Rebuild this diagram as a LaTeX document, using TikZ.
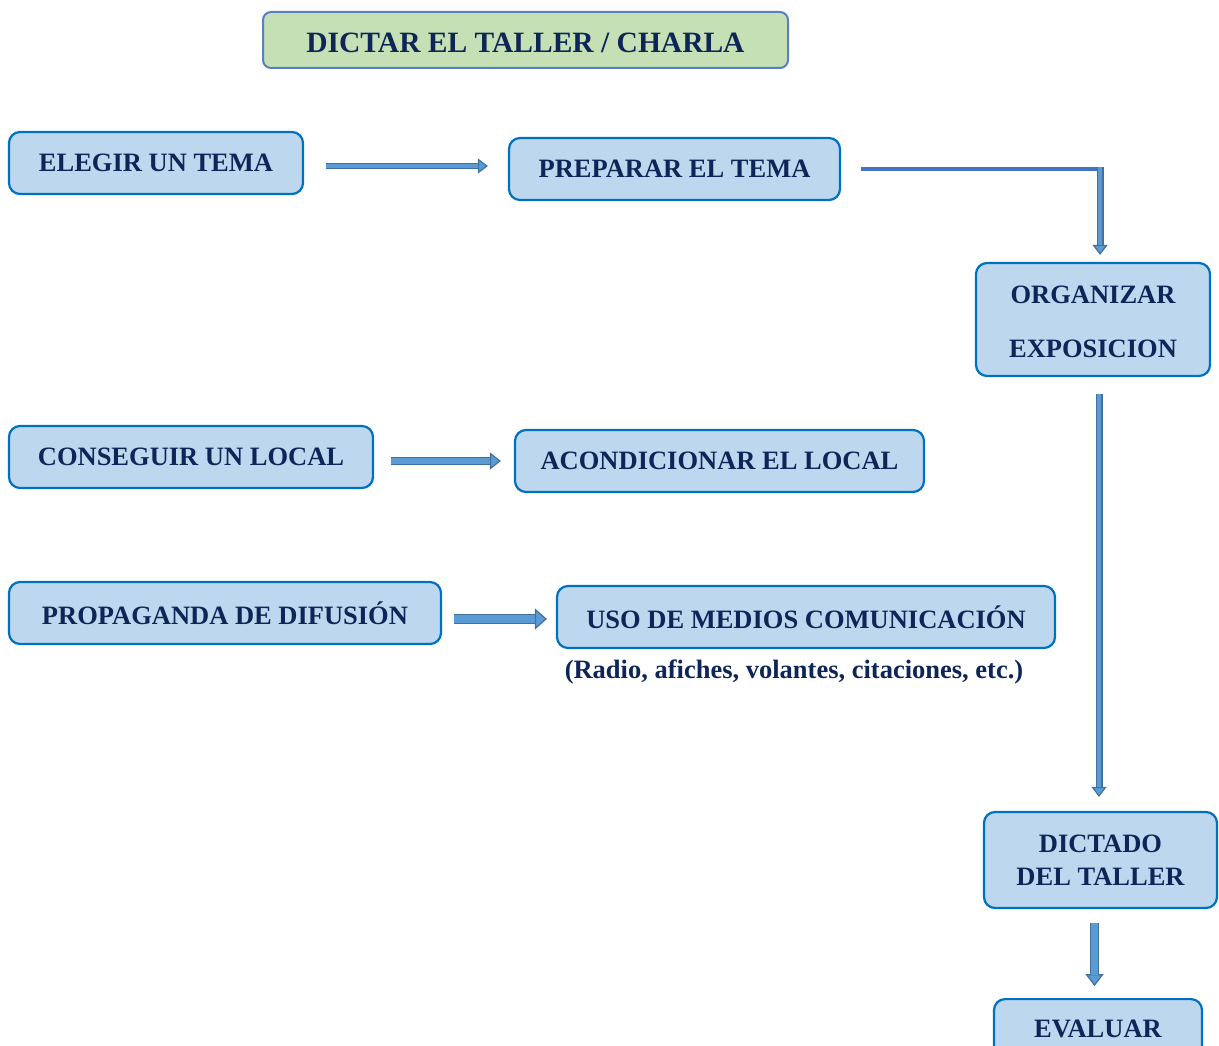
\documentclass[tikz,border=0pt]{standalone}
\usepackage{fontspec}
\setmainfont{Liberation Serif}
\usetikzlibrary{arrows.meta,calc}
\definecolor{boxfill}{HTML}{BDD7EE}
\definecolor{boxdraw}{HTML}{0070C0}
\definecolor{titlefill}{HTML}{C5E0B4}
\definecolor{titledraw}{HTML}{5B80C2}
\definecolor{txt}{HTML}{0E2557}
\definecolor{adark}{HTML}{41719C}
\definecolor{alight}{HTML}{5B9BD5}
\definecolor{aline}{HTML}{4472C4}
\tikzset{
  stepbox/.style={draw=boxdraw, line width=2.2pt, fill=boxfill, rounded corners=11pt,
    text=txt, font=\bfseries\fontsize{26.5}{33}\selectfont, inner sep=0pt, align=center},
  titlebox/.style={draw=titledraw, line width=2pt, fill=titlefill, rounded corners=8pt,
    text=txt, font=\bfseries\fontsize{29.5}{34}\selectfont, inner sep=0pt},
  note/.style={text=txt, font=\bfseries\fontsize{26.5}{30}\selectfont, inner sep=0pt},
}
% block arrow: #1 shaft width, #2 head width, #3 head length
\newcommand\blockarrow[5]{%
  \draw[line width=#1, draw=adark, -{Triangle[width=#2, length=#3, line width=1.2pt, fill=alight, color=adark]}] #4 -- #5;
  \draw[line width=#1-2.4pt, draw=alight, shorten >=#3-0.5pt] #4 -- #5;
}
\begin{document}
\begin{tikzpicture}[x=1pt,y=-1pt]
\useasboundingbox (0,0) rectangle (1219,1046);
\node[titlebox, minimum width=525pt, minimum height=56pt, text height=25.5pt, text depth=0pt] (title) at (525.5,40) {DICTAR EL TALLER / CHARLA};

\node[stepbox, minimum width=294pt, minimum height=62pt] (elegir) at (156,163) {ELEGIR UN TEMA};
\node[stepbox, minimum width=331pt, minimum height=62pt] (preparar) at (674.5,169) {PREPARAR EL TEMA};
\node[stepbox, minimum width=234pt, minimum height=113pt] (organizar) at (1093,319.5) {};
\node[text=txt, font=\bfseries\fontsize{26.5}{54}\selectfont, inner sep=0pt, align=center] (orgtxt) at (1093,322) {ORGANIZAR\\EXPOSICION};
\node[stepbox, minimum width=364pt, minimum height=62pt] (conseguir) at (191,457) {CONSEGUIR UN LOCAL};
\node[stepbox, minimum width=409pt, minimum height=62pt] (acond) at (719.5,461) {ACONDICIONAR EL LOCAL};
\node[stepbox, minimum width=432pt, minimum height=62pt] (propa) at (225,613) {PROPAGANDA DE DIFUSIÓN};
\node[stepbox, minimum width=498pt, minimum height=62pt] (uso) at (806,617) {USO DE MEDIOS COMUNICACIÓN};
\node[note] (nota) at (794,672) {(Radio, afiches, volantes, citaciones, etc.)};
\node[stepbox, minimum width=233pt, minimum height=96pt] (dictado) at (1100.5,860) {DICTADO\\DEL TALLER};
\node[stepbox, minimum width=208pt, minimum height=70pt, anchor=north] (evaluar) at (1098,998) {};
\node[text=txt, font=\bfseries\fontsize{26.5}{33}\selectfont, inner sep=0pt] (evaltxt) at (1098,1029) {EVALUAR};

% connectors
\blockarrow{6pt}{15pt}{10pt}{($(elegir.east)+(22,3)$)}{($(preparar.west)+(-20,-3)$)}
\draw[line width=4.5pt, aline] ($(preparar.east)+(20,0)$) -- ($(preparar.east)+(262,0)$) coordinate (corner);
\blockarrow{7pt}{15pt}{10pt}{($(corner)+(-3,-2)$)}{($(corner|-organizar.north)+(-3,-7)$)}
\blockarrow{7pt}{15pt}{10pt}{($(organizar.south)+(6,17)$)}{($(organizar.south|-dictado.north)+(6,-14)$)}
\blockarrow{8pt}{17pt}{11pt}{($(conseguir.east)+(17,4)$)}{($(acond.west)+(-13,0)$)}
\blockarrow{10pt}{21pt}{12pt}{($(propa.east)+(12,6)$)}{($(uso.west)+(-9,2)$)}
\blockarrow{9pt}{18pt}{12pt}{($(dictado.south)+(-6,14)$)}{($(dictado.south)+(-6,77)$)}
\end{tikzpicture}
\end{document}
